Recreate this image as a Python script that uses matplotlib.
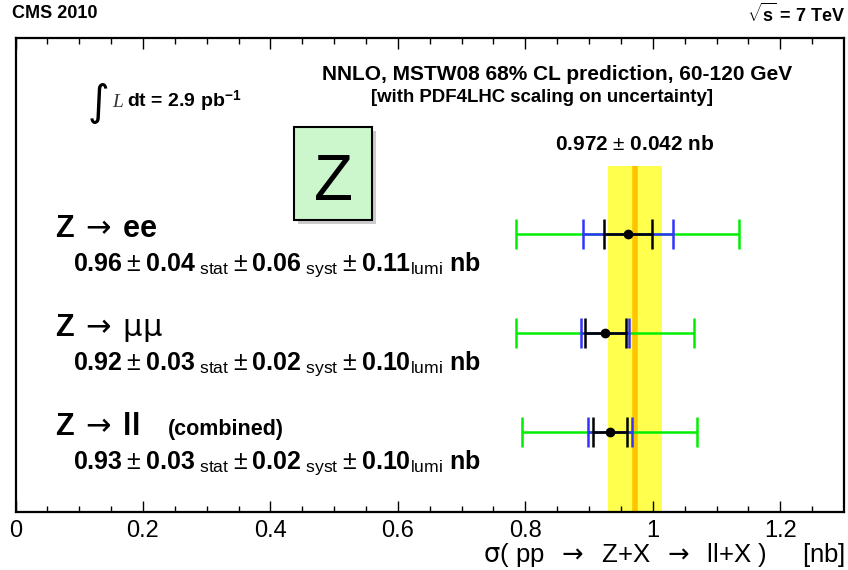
import matplotlib
matplotlib.use("Agg")
import matplotlib.pyplot as plt
from matplotlib.patches import Rectangle
import numpy as np

plt.rcParams["font.family"] = ["Liberation Sans", "DejaVu Sans"]
plt.rcParams["mathtext.fontset"] = "custom"
plt.rcParams["mathtext.rm"] = "DejaVu Sans"
plt.rcParams["mathtext.sf"] = "Liberation Sans"
plt.rcParams["mathtext.bf"] = "Liberation Sans:bold"
plt.rcParams["mathtext.it"] = "Liberation Serif:italic"

# measurements (nb), top to bottom: ee, mumu, combined
channels = ["ee", "mumu", "ll"]
central = [0.961, 0.925, 0.933]
stat_lo = [0.923, 0.893, 0.906]
stat_hi = [0.998, 0.958, 0.959]
syst_lo = [0.890, 0.887, 0.898]
syst_hi = [1.031, 0.963, 0.967]
tot_lo = [0.785, 0.785, 0.795]
tot_hi = [1.136, 1.064, 1.069]

# labels shown next to each row
titles = [r"$\mathbf{Z}\ \rightarrow\ \mathbf{ee}$",
          r"$\mathbf{Z}\ \rightarrow\ \mathrm{\mu\mu}$",
          r"$\mathbf{Z}\ \rightarrow\ \mathbf{ll}$"]
vals = [("0.96", "0.04", "0.06", "0.11"),
        ("0.92", "0.03", "0.02", "0.10"),
        ("0.93", "0.03", "0.02", "0.10")]

# NNLO prediction
theory = 0.972
theory_err = 0.042

W, H = 848, 570
fig = plt.figure(figsize=(W / 100, H / 100), dpi=100)
ax = fig.add_axes([15.5 / W, 1 - 512 / H, (844 - 15.5) / W, (512 - 38) / H])
ax.set_xlim(0, 1.3)
ax.set_ylim(0, 4.74)

row_y = np.array([2.78, 1.79, 0.80])

# prediction band
ax.fill_betweenx([0, 3.46], theory - theory_err, theory + theory_err,
                 color="#ffff4d", lw=0, zorder=1)
ax.plot([theory, theory], [0, 3.46], color="#ffc400", lw=4, zorder=2,
        solid_capstyle="butt")

c = np.array(central)
for lo, hi, col in [(tot_lo, tot_hi, "#00ee00"),
                    (syst_lo, syst_hi, "#3333ff"),
                    (stat_lo, stat_hi, "black")]:
    err = np.vstack([c - np.array(lo), np.array(hi) - c])
    ax.errorbar(c, row_y, xerr=err, fmt="none", ecolor=col, elinewidth=1.8,
                capsize=11, capthick=1.8, zorder=3)
ax.plot(c, row_y, "o", color="black", ms=6, zorder=5)

# axes styling
for s in ax.spines.values():
    s.set_linewidth(1.6)
ax.set_xticks(np.arange(0, 1.21, 0.2))
ax.set_xticklabels(["0", "0.2", "0.4", "0.6", "0.8", "1", "1.2"])
ax.set_xticks(np.arange(0, 1.3, 0.05), minor=True)
ax.tick_params(axis="x", which="major", direction="in", top=True, length=8,
               width=1, labelsize=17, pad=6)
ax.tick_params(axis="x", which="minor", direction="in", top=True, length=4,
               width=1)
ax.set_yticks([])


def px(x, y):
    return x / W, 1 - y / H


fig.text(*px(12, 14), "CMS 2010", fontsize=13, fontweight="bold", va="center")
fig.text(*px(845, 14), r"$\sqrt{\mathbf{s}}$ = 7 TeV", fontsize=13,
         fontweight="bold", va="center", ha="right")
fig.text(*px(845, 562),
         r"$\mathrm{\sigma}$( pp  $\rightarrow$  Z+X  $\rightarrow$  ll+X )     [nb]",
         fontsize=18.5, ha="right", va="baseline")

fig.text(*px(557, 75), "NNLO, MSTW08 68% CL prediction, 60-120 GeV",
         fontsize=15, fontweight="bold", ha="center", va="center")
fig.text(*px(542, 97), "[with PDF4LHC scaling on uncertainty]",
         fontsize=13.4, fontweight="bold", ha="center", va="center")
fig.text(*px(635, 145), r"0.972 $\mathsf{\pm}$ 0.042 nb", fontsize=15,
         fontweight="bold", ha="center", va="center")

# integrated luminosity
fig.text(*px(98, 104), r"$\int$", fontsize=30, ha="center", va="center",
         family="DejaVu Sans")
fig.text(*px(112, 107), "L", fontsize=14, family="Liberation Serif",
         style="italic", color="#333333", va="baseline")
fig.text(*px(127, 107), r"dt = 2.9 pb$^{\mathbf{-1}}$", fontsize=14,
         fontweight="bold", va="baseline")

# Z box
tr = fig.transFigure
x0, y0 = px(294, 220)
bw, bh = 78 / W, 93 / H
fig.patches.append(Rectangle((x0 + 4 / W, y0 - 4 / H), bw, bh, transform=tr,
                             facecolor="#999999", edgecolor="none", alpha=0.5,
                             zorder=1))
fig.patches.append(Rectangle((x0, y0), bw, bh, transform=tr,
                             facecolor="#ccf7cc", edgecolor="black", lw=1.5,
                             zorder=2))
fig.text(*px(333, 200), "Z", fontsize=46, ha="center", va="baseline", zorder=3)

row_px = [234, 333, 432]
for i in range(3):
    yb = row_px[i]
    fig.text(*px(55, yb + 3), titles[i], fontsize=22, va="baseline")
    v, st, sy, lu = vals[i]
    s = (r"$\mathbf{%s}\;\mathsf{\pm}\;\mathbf{%s}\;{}_{\mathsf{stat}}\;\mathsf{\pm}\;"
         r"\mathbf{%s}\;{}_{\mathsf{syst}}\;\mathsf{\pm}\;\mathbf{%s}_{\mathsf{lumi}}$ nb"
         % (v, st, sy, lu))
    fig.text(*px(73, yb + 37), s, fontsize=18, fontweight="bold", va="baseline")
fig.text(*px(168, 435), "(combined)", fontsize=15.5, fontweight="bold",
         va="baseline")

fig.savefig("out.png", dpi=100)
